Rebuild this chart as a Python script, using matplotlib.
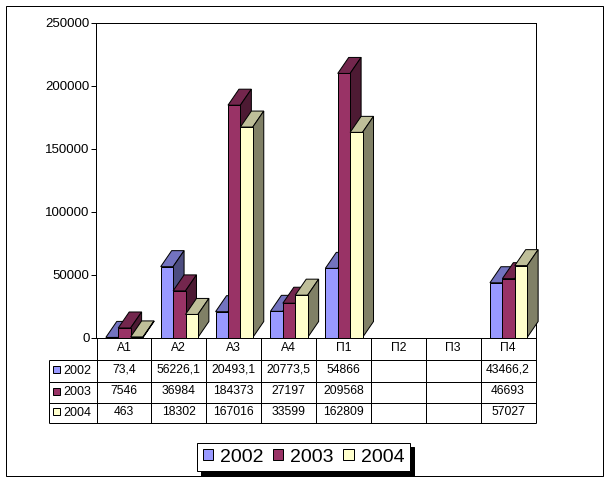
import matplotlib
matplotlib.use('Agg')
import matplotlib.pyplot as plt
from matplotlib.patches import Patch, Polygon, Rectangle

plt.rcParams['font.family'] = ['Liberation Sans', 'DejaVu Sans']

# Data
CATEGORIES = ['А1', 'А2', 'А3', 'А4', 'П1', 'П2', 'П3', 'П4']
YEARS = ['2002', '2003', '2004']
VALUES_2002 = [73.4, 56226.1, 20493.1, 20773.5, 54866, None, None, 43466.2]
VALUES_2003 = [7546, 36984, 184373, 27197, 209568, None, None, 46693]
VALUES_2004 = [463, 18302, 167016, 33599, 162809, None, None, 57027]
YTICKS = [0, 50000, 100000, 150000, 200000, 250000]

SERIES = [VALUES_2002, VALUES_2003, VALUES_2004]
FRONT = ['#9999FF', '#993366', '#FFFFCC']
TOP = ['#7373BF', '#73264D', '#BFBF99']
SIDE = ['#4D4D80', '#4D1A33', '#808066']

# Layout, in pixels of the 608x480 image
W, H = 608, 480
AX_L, AX_R, AX_T, AX_B = 96.5, 535.5, 22.5, 337.5
TABLE_L = 48.5
ROW_LINES = [359.5, 381.5, 402.5, 422.5]
ROW_CENTERS = [370, 391.5, 412]
HEADER_CENTER = 348

BAR_W = 0.226
BAR_START = 0.17
DEPTH_X = 0.2
DEPTH_Y = 12700
LW = 0.72


def draw_bars(ax):
    for s, values in enumerate(SERIES):
        for c, val in enumerate(values):
            if val is None:
                continue
            x0 = c + BAR_START + s * BAR_W
            x1 = x0 + BAR_W
            top = [(x0, val), (x1, val), (x1 + DEPTH_X, val + DEPTH_Y),
                   (x0 + DEPTH_X, val + DEPTH_Y)]
            side = [(x1, 0), (x1 + DEPTH_X, DEPTH_Y),
                    (x1 + DEPTH_X, val + DEPTH_Y), (x1, val)]
            z = 3 + s * 0.1 + c * 0.01
            for pts, col in ((top, TOP[s]), (side, SIDE[s])):
                ax.add_patch(Polygon(pts, closed=True, facecolor=col,
                                     edgecolor='black', linewidth=LW,
                                     clip_on=False, zorder=z))
            ax.add_patch(Rectangle((x0, 0), BAR_W, val, facecolor=FRONT[s],
                                   edgecolor='black', linewidth=LW,
                                   clip_on=False, zorder=z))


def draw_table(bg, col_w):
    kw = dict(color='black', linewidth=LW, solid_capstyle='butt')
    # outer frame of the chart
    bg.add_patch(Rectangle((5.5, 5.5), 597, 470, facecolor='white',
                           edgecolor='black', linewidth=LW))
    for i in range(len(CATEGORIES) + 1):
        x = AX_L + i * col_w
        bg.plot([x, x], [AX_B, ROW_LINES[-1]], **kw)
    bg.plot([TABLE_L, TABLE_L], [ROW_LINES[0], ROW_LINES[-1]], **kw)
    for y in ROW_LINES:
        bg.plot([TABLE_L, AX_R], [y, y], **kw)

    for i, cat in enumerate(CATEGORIES):
        x = AX_L + (i + 0.5) * col_w
        bg.text(x, HEADER_CENTER, cat, ha='center', va='center', fontsize=8.7)

    for r, year in enumerate(YEARS):
        y = ROW_CENTERS[r]
        bg.add_patch(Rectangle((52.5, y - 4), 7, 7, facecolor=FRONT[r],
                               edgecolor='black', linewidth=LW))
        bg.text(63, y + 0.5, year, ha='left', va='center', fontsize=9)
        for i, val in enumerate(SERIES[r]):
            if val is None:
                continue
            label = str(val).replace('.', ',')
            x = AX_L + (i + 0.5) * col_w
            bg.text(x, y, label, ha='center', va='center', fontsize=8.7)


def main():
    fig = plt.figure(figsize=(W / 100, H / 100), dpi=100, facecolor='white')

    bg = fig.add_axes([0, 0, 1, 1], zorder=0)
    bg.set_xlim(0, W)
    bg.set_ylim(H, 0)
    bg.axis('off')

    ax = fig.add_axes([AX_L / W, 1 - AX_B / H,
                       (AX_R - AX_L) / W, (AX_B - AX_T) / H], zorder=1)
    ax.patch.set_alpha(0)
    ax.set_xlim(0, len(CATEGORIES))
    ax.set_ylim(0, 250000)
    ax.set_xticks([])
    ax.set_yticks(YTICKS)
    ax.tick_params(axis='y', length=3.4, width=LW, pad=1.6, labelsize=9.5)
    for sp in ax.spines.values():
        sp.set_linewidth(LW)

    draw_bars(ax)
    draw_table(bg, (AX_R - AX_L) / len(CATEGORIES))

    handles = [Patch(facecolor=FRONT[i], edgecolor='black', linewidth=LW,
                     label=YEARS[i]) for i in range(3)]
    leg = fig.legend(handles=handles, ncol=3, fontsize=14,
                     loc='center', bbox_to_anchor=(303.5 / W, 1 - 457 / H),
                     fancybox=False, edgecolor='black', framealpha=1,
                     shadow={'color': 'black', 'alpha': 1, 'ox': 3, 'oy': -3},
                     handlelength=0.52, handleheight=0.52, handletextpad=0.36,
                     columnspacing=0.5, borderpad=0.3, borderaxespad=0)
    leg.get_frame().set_linewidth(LW)
    leg.set_zorder(5)

    fig.savefig('out.png', dpi=100)
    plt.close(fig)


if __name__ == '__main__':
    main()
